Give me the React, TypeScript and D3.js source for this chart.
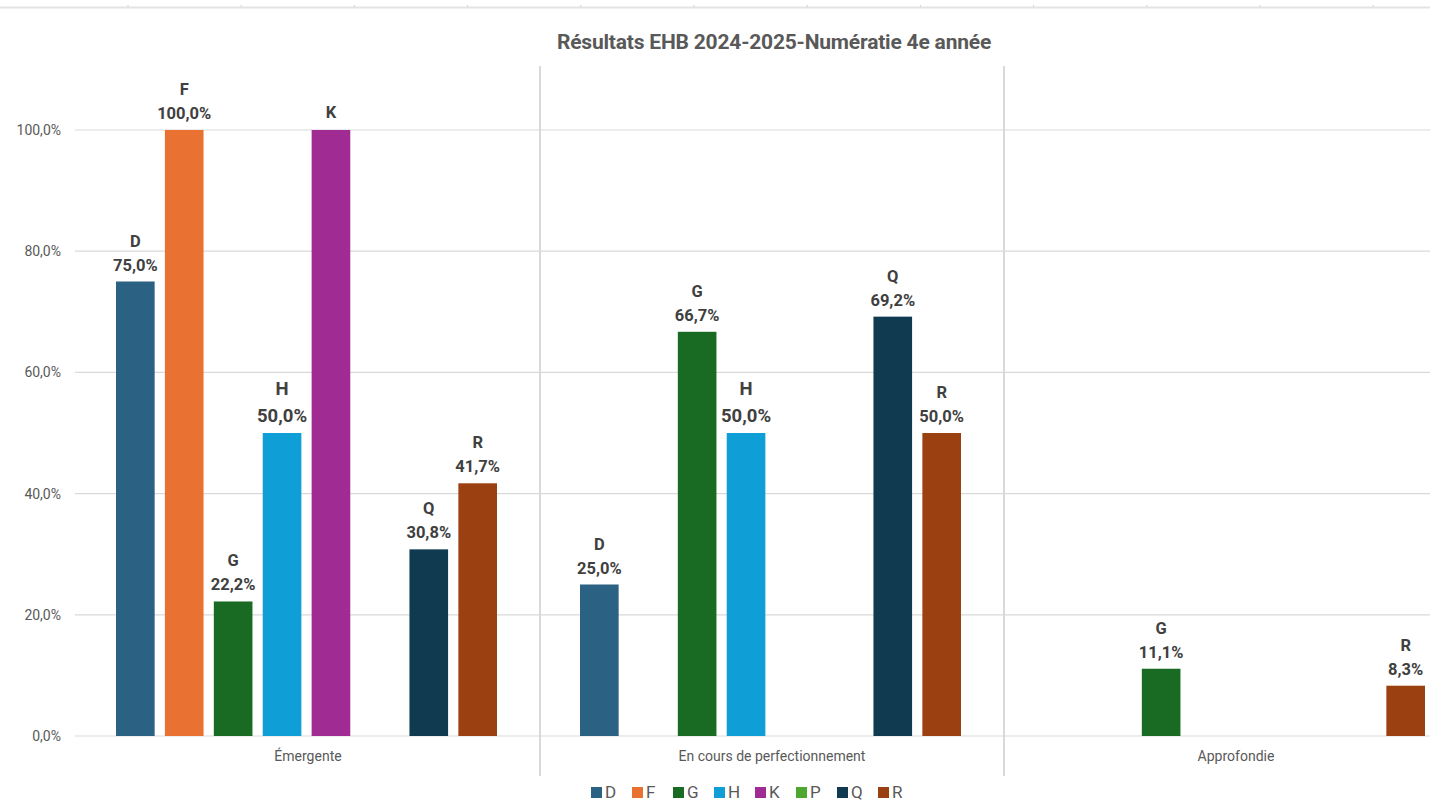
import * as d3 from 'd3'

const categories = ['Émergente', 'En cours de perfectionnement', 'Approfondie']
const seriesNames = ['D', 'F', 'G', 'H', 'K', 'P', 'Q', 'R']
const seriesColors = ['#2b6182', '#e97132', '#196b24', '#0f9ed5', '#a02b93', '#4ea72e', '#0f3a50', '#9b4011']

// values in %, null = no bar
const emergente = [75.0, 100.0, 22.2, 50.0, 100.0, null, 30.8, 41.7]
const enCours = [25.0, null, 66.7, 50.0, null, null, 69.2, 50.0]
const approfondie = [null, null, 11.1, null, null, null, null, 8.3]
const values = [emergente, enCours, approfondie]

const yTicks = [0, 20, 40, 60, 80, 100]
const hideValueFor = ['K'] // label shows only the letter
const bigLabelFor = ['H']

const title = 'Résultats EHB 2024-2025-Numératie 4e année'

const W = 1430
const H = 803
const margin = { top: 130, left: 76, bottom: 67 }
const font = '"Roboto", sans-serif'

export default function App() {
  const y = d3.scaleLinear().domain([0, 100]).range([H - margin.bottom, margin.top])

  const x0 = d3.scaleBand<string>()
    .domain(categories)
    .range([margin.left, margin.left + 464 * 3])

  const x1 = d3.scaleBand<string>()
    .domain(seriesNames)
    .range([40, 421])
    .paddingInner(0.21)

  const fmt = (v: number) => v.toFixed(1).replace('.', ',') + '%'

  const topTicks = d3.range(12).map(i => 128 + i * 113.2)
  const legendStep = 41
  const legendX0 = 591

  return (
    <svg width={W} height={H} style={{ position: 'absolute', left: 0, top: 0, background: '#fff' }} fontFamily={font}>
      {/* spreadsheet header border */}
      <line x1={0} x2={W} y1={7.5} y2={7.5} stroke="#e3e3e3" strokeWidth={2} />
      {topTicks.map(t => (
        <line key={t} x1={t} x2={t} y1={5} y2={7} stroke="#d0d0d0" strokeWidth={1} />
      ))}

      <text x={774} y={49} textAnchor="middle" fontSize={21} fontWeight="bold" fill="#595959" letterSpacing={-0.2}>{title}</text>

      {/* grid */}
      {yTicks.map(t => (
        <g key={t}>
          <line x1={75} x2={W} y1={y(t)} y2={y(t)} stroke="#d9d9d9" strokeWidth={1.2} />
          <text x={61} y={y(t) + 5} textAnchor="end" fontSize={14} fill="#595959">{fmt(t)}</text>
        </g>
      ))}

      {/* category separators */}
      {categories.slice(1).map(c => (
        <line key={c} x1={x0(c)!} x2={x0(c)!} y1={66} y2={776} stroke="#d9d9d9" strokeWidth={2} />
      ))}

      {categories.map((c, ci) => (
        <g key={c} transform={`translate(${x0(c)},0)`}>
          {seriesNames.map((s, si) => {
            const v = values[ci][si]
            if (v == null) return null
            const bx = x1(s)!
            const cx = bx + x1.bandwidth() / 2
            const top = y(v)
            const big = bigLabelFor.includes(s)
            const hide = hideValueFor.includes(s)
            const fs = big ? 18.5 : 16.5
            return (
              <g key={s}>
                <rect x={bx} y={top} width={x1.bandwidth()} height={y(0) - top} fill={seriesColors[si]} />
                {hide ? (
                  <text x={cx} y={top - 12} textAnchor="middle" fontSize={fs} fontWeight="bold" fill="#404040">{s}</text>
                ) : (
                  <>
                    <text x={cx} y={top - (big ? 38 : 35)} textAnchor="middle" fontSize={fs} fontWeight="bold" fill="#404040">{s}</text>
                    <text x={cx} y={top - 11} textAnchor="middle" fontSize={fs} fontWeight="bold" fill="#404040">{fmt(v)}</text>
                  </>
                )}
              </g>
            )
          })}
          <text x={x0.bandwidth() / 2} y={761} textAnchor="middle" fontSize={14} fill="#595959">{c}</text>
        </g>
      ))}

      {/* legend */}
      {seriesNames.map((s, i) => (
        <g key={s} transform={`translate(${legendX0 + i * legendStep},787)`}>
          <rect x={0} y={0} width={11} height={11} fill={seriesColors[i]} />
          <text x={14} y={11} fontSize={17} fill="#595959">{s}</text>
        </g>
      ))}
    </svg>
  )
}
